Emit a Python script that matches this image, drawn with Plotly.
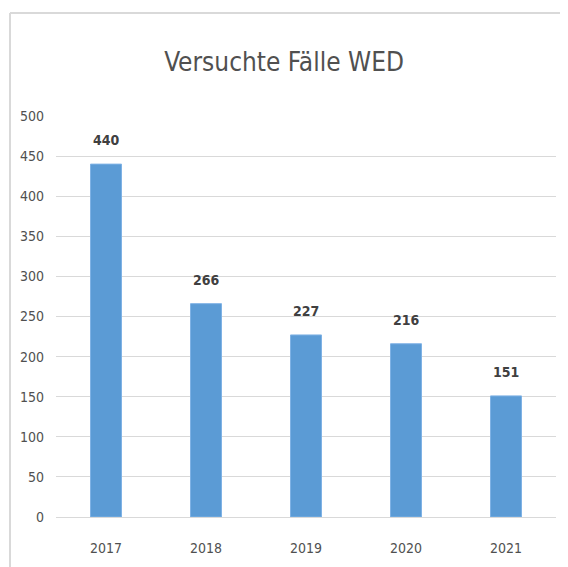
import plotly.graph_objects as go

years = ["2017", "2018", "2019", "2020", "2021"]
values = [440, 266, 227, 216, 151]
y_ticks = [0, 50, 100, 150, 200, 250, 300, 350, 400, 450, 500]

FONT = "DejaVu Sans Condensed, Liberation Sans Narrow, sans-serif"

fig = go.Figure(go.Bar(
    x=years, y=values, width=0.31,
    marker=dict(color="#5b9bd5", line=dict(color="#7fb2e5", width=1)),
    hoverinfo="x+y",
))

for i, v in enumerate(values):
    fig.add_annotation(x=i, y=v, text=f"<b>{v}</b>", showarrow=False,
                       yshift=24, font=dict(family=FONT, size=14, color="#404040"))

# chart frame
fig.add_shape(type="line", xref="paper", yref="paper", x0=-0.092, x1=1.05, y0=1.257, y1=1.257,
              line=dict(color="#d9d9d9", width=2))
fig.add_shape(type="line", xref="paper", yref="paper", x0=-0.092, x1=-0.092, y0=1.257, y1=-0.2,
              line=dict(color="#d9d9d9", width=2))

fig.update_layout(
    width=568, height=567,
    margin=dict(l=41, r=20, t=108, b=58),
    paper_bgcolor="white", plot_bgcolor="white",
    title=dict(text="Versuchte Fälle WED", x=0.486, xanchor="center", y=0.905, yanchor="middle",
               font=dict(family=FONT, size=26, color="#505050")),
    showlegend=False,
)
fig.update_xaxes(type="category", range=[-0.5, 4.5], showgrid=False, showline=True,
                 linecolor="#d9d9d9", linewidth=1,
                 ticks="", ticklabelstandoff=18,
                 tickfont=dict(family=FONT, size=14, color="#505050"))
fig.update_yaxes(range=[0, 500], tickvals=y_ticks, showgrid=True, gridcolor="#d9d9d9", gridwidth=1,
                 zeroline=False, showline=False, ticks="", ticklabelstandoff=11,
                 tickfont=dict(family=FONT, size=14, color="#505050"))

fig.write_html("out.html")
